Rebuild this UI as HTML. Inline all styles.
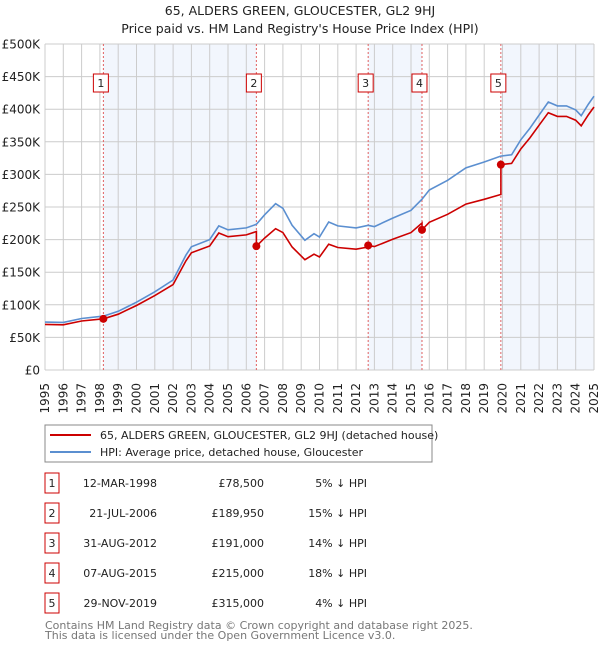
<!DOCTYPE html>
<html><head><meta charset="utf-8">
<style>
body{margin:0;background:#fff;font-family:"DejaVu Sans","Liberation Sans",sans-serif;}
#wrap{position:relative;width:600px;height:650px;overflow:hidden;}
svg text{font-family:"DejaVu Sans","Liberation Sans",sans-serif;}
</style></head>
<body>
<div id="wrap">
<svg id="chart" width="600" height="650">
  <text x="300" y="15" text-anchor="middle" font-size="12.5" fill="#222">65, ALDERS GREEN, GLOUCESTER, GL2 9HJ</text>
  <text x="300" y="33" text-anchor="middle" font-size="12.5" fill="#222">Price paid vs. HM Land Registry's House Price Index (HPI)</text>
  <g id="bands"></g><g id="grid"></g><g id="ylab"></g><g id="xlab"></g><g id="vlines"></g>
  <g id="series"></g><g id="markers"></g>
  <g>
    <rect x="45" y="425" width="387" height="37" fill="#fff" stroke="#888" stroke-width="1"/>
    <line x1="50" y1="435" x2="91" y2="435" stroke="#cc0000" stroke-width="2"/>
    <text x="100" y="439" font-size="11" fill="#222">65, ALDERS GREEN, GLOUCESTER, GL2 9HJ (detached house)</text>
    <line x1="50" y1="452" x2="91" y2="452" stroke="#5b8fd0" stroke-width="2"/>
    <text x="100" y="456" font-size="11" fill="#222">HPI: Average price, detached house, Gloucester</text>
  </g>
  <g id="table"></g>
  <text x="45" y="629" font-size="11" fill="#777">Contains HM Land Registry data © Crown copyright and database right 2025.</text>
  <text x="45" y="639" font-size="11" fill="#777">This data is licensed under the Open Government Licence v3.0.</text>
</svg>
</div>
<script>
const hpiYears = [1995,1996,1997,1998.2,1999,2000,2001,2002,2002.7,2003,2004,2004.5,2005,2006,2006.55,2007,2007.6,2008,2008.5,2009.2,2009.7,2010,2010.5,2011,2012,2012.66,2013,2014,2015,2015.6,2016,2017,2018,2019,2019.9,2020.5,2021,2021.5,2022,2022.5,2023,2023.5,2024,2024.3,2024.7,2025];
const hpiValues = [73500,73000,79000,82600,90000,104000,120000,138000,176000,189000,200000,221000,215000,218000,223500,238000,255000,248000,222000,199000,209000,204000,227000,221000,218000,222000,220000,233000,245000,262000,276000,291000,310000,319000,328000,330000,353000,371000,391000,411000,405000,405000,399000,390000,408000,420000];
const saleDates = [1998.19,2006.55,2012.66,2015.6,2019.91];
const salePrices = [78500,189950,191000,215000,315000];
const saleLabels = ["12-MAR-1998","21-JUL-2006","31-AUG-2012","07-AUG-2015","29-NOV-2019"];
const salePriceText = ["£78,500","£189,950","£191,000","£215,000","£315,000"];
const salePctText = ["5% ↓ HPI","15% ↓ HPI","14% ↓ HPI","18% ↓ HPI","4% ↓ HPI"];
const yTicks = [0,50000,100000,150000,200000,250000,300000,350000,400000,450000,500000];
const yTickLabels = ["£0","£50K","£100K","£150K","£200K","£250K","£300K","£350K","£400K","£450K","£500K"];

const X0=45,X1=594,Y0=370,Y1=44;
const xs=t=>X0+(t-1995)/30*(X1-X0);
const ys=v=>Y0-v/500000*(Y0-Y1);
const NS="http://www.w3.org/2000/svg";
function mk(tag,attrs,parent,text){const e=document.createElementNS(NS,tag);for(const k in attrs)e.setAttribute(k,attrs[k]);if(text!==undefined)e.textContent=text;document.getElementById(parent).appendChild(e);return e;}
function hpiAt(t){for(let i=0;i<hpiYears.length-1;i++){if(t<=hpiYears[i+1]){const f=(t-hpiYears[i])/(hpiYears[i+1]-hpiYears[i]);return hpiValues[i]+f*(hpiValues[i+1]-hpiValues[i]);}}return hpiValues[hpiValues.length-1];}

const bandEdges=[[saleDates[0],saleDates[1]],[saleDates[2],saleDates[3]],[saleDates[4],2025]];
bandEdges.forEach(b=>{const r=mk('rect',{x:xs(b[0]),y:Y1,width:xs(b[1])-xs(b[0]),height:Y0-Y1,fill:'#f2f6fd'},'bands');

});
for(let yr=1995;yr<=2025;yr++){const l=mk('line',{x1:xs(yr),x2:xs(yr),y1:Y1,y2:Y0,stroke:'#cccccc','stroke-width':1},'grid');


const tx=xs(yr)+4;
const t=mk('text',{x:tx,y:383,'text-anchor':'end','font-size':12,fill:'#222',transform:'rotate(-90 '+tx+' 383)'},'xlab',String(yr));

}
yTicks.forEach((v,i)=>{const l=mk('line',{x1:X0,x2:X1,y1:ys(v),y2:ys(v),stroke:'#cccccc','stroke-width':1},'grid');


const t=mk('text',{x:40,y:ys(v)+4.5,'text-anchor':'end','font-size':12,fill:'#222'},'ylab',yTickLabels[i]);

});
const hp=hpiYears.map((t,i)=>(i?'L':'M')+xs(t).toFixed(1)+','+ys(hpiValues[i]).toFixed(1)).join('');
const hl=mk('path',{d:hp,fill:'none',stroke:'#5b8fd0','stroke-width':1.6},'series');


let pts=[];
const ratio0=salePrices[0]/hpiAt(saleDates[0]);
const times=[...new Set(hpiYears.concat(saleDates))].sort((a,b)=>a-b);
times.forEach(t=>{let k=-1;for(let i=0;i<saleDates.length;i++)if(t>=saleDates[i])k=i;
 if(saleDates.includes(t)&&k>0){const pk=k-1;pts.push([t,hpiAt(t)*salePrices[pk]/hpiAt(saleDates[pk])]);}
 const r=k<0?ratio0:salePrices[k]/hpiAt(saleDates[k]);pts.push([t,hpiAt(t)*r]);});
const rp=pts.map((p,i)=>(i?'L':'M')+xs(p[0]).toFixed(1)+','+ys(p[1]).toFixed(1)).join('');
const rl=mk('path',{d:rp,fill:'none',stroke:'#cc0000','stroke-width':1.6},'series');


saleDates.forEach((d,i)=>{const x=xs(d);
 const v=mk('line',{x1:x,x2:x,y1:Y1,y2:Y0,stroke:'#e06060','stroke-width':1,'stroke-dasharray':'2,2'},'vlines');
 
 
 const c=mk('circle',{cx:x,cy:ys(salePrices[i]),r:4,fill:'#cc0000'},'markers');
 
 
 const b=mk('rect',{x:x-10,y:74,width:15,height:18,fill:'#fff',stroke:'#cc0000','stroke-width':1},'markers');
 
 
 const tt=mk('text',{x:x-2.5,y:87,'text-anchor':'middle','font-size':11,fill:'#222'},'markers',String(i+1));
 
 
 const y=483+i*30;
 const tb=mk('rect',{x:45,y:y-10,width:14,height:20,fill:'#fff',stroke:'#cc0000','stroke-width':1},'table');
 
 
 const n=mk('text',{x:52,y:y+4,'text-anchor':'middle','font-size':11,fill:'#222'},'table',String(i+1));
 
 
 const dt=mk('text',{x:157,y:y+4,'text-anchor':'end','font-size':11,fill:'#222'},'table',saleLabels[i]);
 
 
 const pr=mk('text',{x:264,y:y+4,'text-anchor':'end','font-size':11,fill:'#222'},'table',salePriceText[i]);
 
 
 const pc=mk('text',{x:367,y:y+4,'text-anchor':'end','font-size':11,fill:'#222'},'table',salePctText[i]);
 
 
});
</script>
</body></html>
